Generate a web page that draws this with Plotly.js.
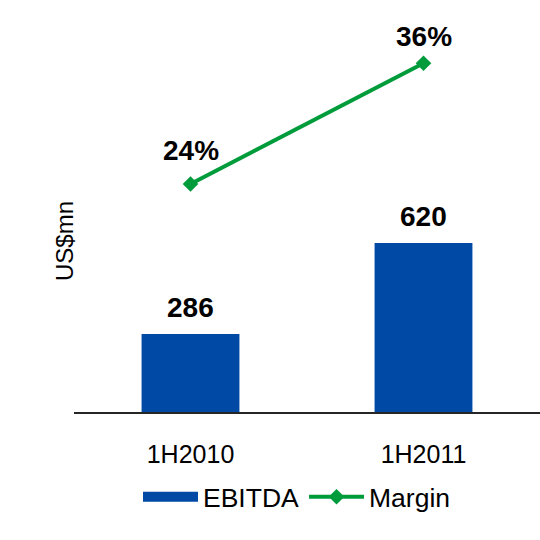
<!DOCTYPE html>
<html>
<head>
<meta charset="utf-8">
<script src="https://cdn.plot.ly/plotly-3.0.1.min.js"></script>
<style>html,body{margin:0;padding:0;background:#fff;}#chart{width:540px;height:540px;}</style>
</head>
<body>
<div id="chart"></div>
<script>
var categories = ["1H2010", "1H2011"];
var ebitda = [286, 620];
var margin = [24, 36];
var marginLabels = ["24%", "36%"];
var barName = "EBITDA";
var lineName = "Margin";
var yTitle = "US$mn";

var FONT = "Liberation Sans, Arial, sans-serif";
var BLUE = "#004AA5";
var GREEN = "#009C3B";

var traces = [
  {
    type: "bar", x: categories, y: ebitda, name: barName, showlegend: false,
    marker: {color: BLUE}, width: 0.42, hoverinfo: "none"
  },
  // legend key for the bars (wide rectangle as in the reference); draws no data
  {
    type: "scatter", mode: "lines", x: [null], y: [null], name: barName,
    line: {color: BLUE, width: 15}, hoverinfo: "none"
  },
  {
    type: "scatter", mode: "lines+markers", x: categories, y: margin, name: lineName,
    yaxis: "y2", line: {color: GREEN, width: 4},
    marker: {symbol: "diamond", size: 12, color: GREEN}, hoverinfo: "none"
  }
];

var L = 74, T = 20, W = 466, H = 392;

var annotations = [];
ebitda.forEach(function (v, i) {
  annotations.push({x: categories[i], y: v, xref: "x", yref: "y", text: "<b>" + v + "</b>",
    showarrow: false, yanchor: "bottom", yshift: 9,
    font: {family: FONT, size: 28, color: "#000"}});
});
var lineShift = [16, 9];
margin.forEach(function (v, i) {
  annotations.push({x: categories[i], y: v, xref: "x", yref: "y2", text: "<b>" + marginLabels[i] + "</b>",
    showarrow: false, yanchor: "bottom", yshift: lineShift[i],
    font: {family: FONT, size: 28, color: "#000"}});
});
annotations.push({x: (65 - L) / W, xref: "paper", y: (T + H - 241) / H, yref: "paper", text: yTitle,
  showarrow: false, xanchor: "center", yanchor: "middle",
  textangle: -90, font: {family: FONT, size: 24, color: "#000"}});

var layout = {
  width: 540, height: 540,
  margin: {l: L, r: 0, t: T, b: 540 - T - H, pad: 0},
  paper_bgcolor: "#fff", plot_bgcolor: "#fff",
  font: {family: FONT, color: "#000"},
  showlegend: true,
  legend: {orientation: "h", x: (138 - L) / W, xanchor: "left", y: (T + H - 497) / H, yanchor: "middle",
    font: {family: FONT, size: 26.5, color: "#000"}, itemwidth: 55, traceorder: "normal",
    bgcolor: "rgba(0,0,0,0)"},
  xaxis: {range: [-0.5, 1.5], showline: true, linecolor: "#262626", linewidth: 1.5,
    ticks: "", showgrid: false, zeroline: false, tickfont: {family: FONT, size: 25, color: "#000"},
    ticklabelstandoff: 19, fixedrange: true},
  yaxis: {range: [0, 1437.5], showticklabels: false, showgrid: false, zeroline: false, showline: false, ticks: "", fixedrange: true},
  yaxis2: {overlaying: "y", side: "right", range: [1.33, 40.3], showticklabels: false, showgrid: false,
    zeroline: false, showline: false, ticks: "", fixedrange: true},
  annotations: annotations
};

Plotly.newPlot("chart", traces, layout, {displayModeBar: false, staticPlot: true});
</script>
</body>
</html>
